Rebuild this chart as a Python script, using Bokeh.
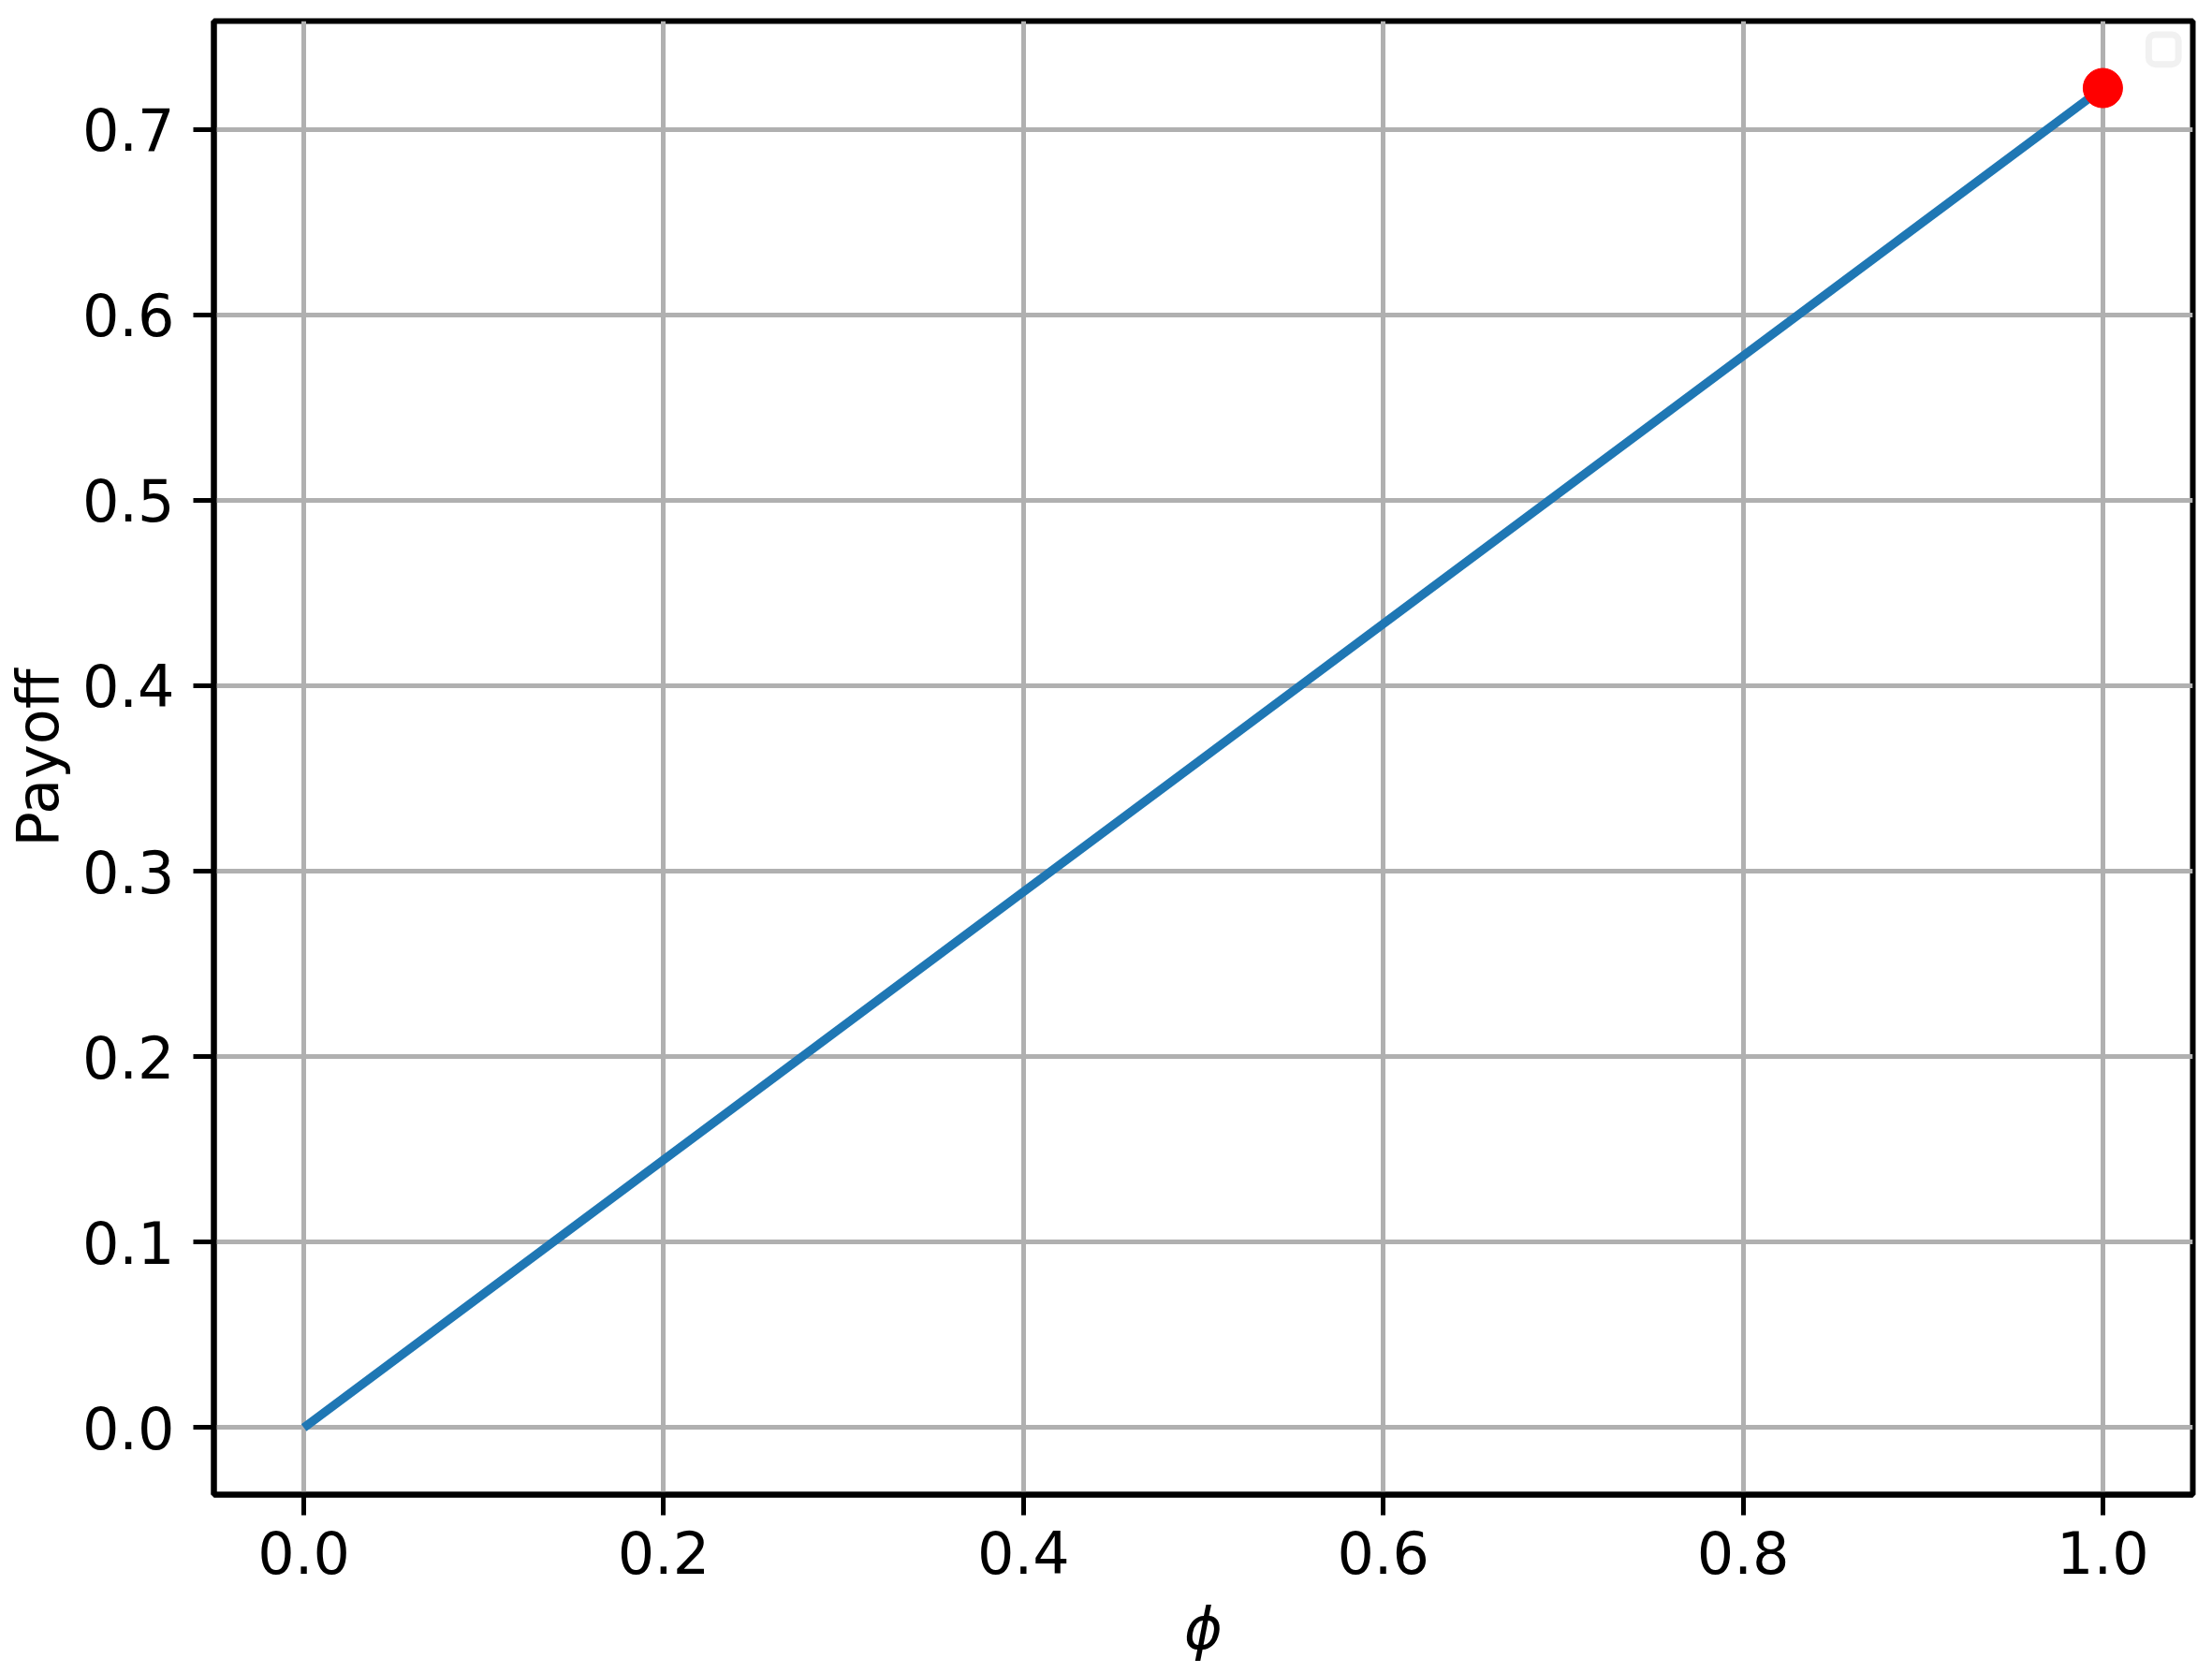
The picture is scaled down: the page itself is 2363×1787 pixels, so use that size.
from bokeh.plotting import figure
from bokeh.models import Range1d, FixedTicker, PrintfTickFormatter, BoxAnnotation
from bokeh.embed import file_html
from bokeh.resources import INLINE

# data
phi = [0.0, 1.0]
payoff = [0.0, 0.7222]
best_phi = [1.0]
best_payoff = [0.7222]
x_ticks = [0.0, 0.2, 0.4, 0.6, 0.8, 1.0]
y_ticks = [0.0, 0.1, 0.2, 0.3, 0.4, 0.5, 0.6, 0.7]

FONT = "DejaVu Sans"
FS = "62px"

xmin, xmax = min(phi), max(phi)
ymin, ymax = min(payoff), max(payoff)
xpad = 0.05 * (xmax - xmin)
ypad = 0.05 * (ymax - ymin)

p = figure(width=2355, height=1779, output_backend="svg", toolbar_location=None,
           x_range=Range1d(xmin - xpad, xmax + xpad),
           y_range=Range1d(ymin - ypad, ymax + ypad),
           min_border_left=228, min_border_right=13, min_border_top=22, min_border_bottom=183)

p.background_fill_color = "white"
p.border_fill_color = "white"
p.outline_line_color = "black"
p.outline_line_width = 6

p.xaxis.ticker = FixedTicker(ticks=x_ticks)
p.yaxis.ticker = FixedTicker(ticks=y_ticks)
p.xaxis.formatter = PrintfTickFormatter(format="%.1f")
p.yaxis.formatter = PrintfTickFormatter(format="%.1f")

for ax in (p.xaxis, p.yaxis):
    ax.axis_line_color = "black"
    ax.axis_line_width = 6
    ax.major_tick_line_color = "black"
    ax.major_tick_line_width = 5
    ax.major_tick_out = 22
    ax.major_tick_in = 0
    ax.minor_tick_line_color = None
    ax.major_label_text_font = FONT
    ax.major_label_text_font_size = FS
    ax.major_label_text_color = "black"
    ax.axis_label_text_font = FONT
    ax.axis_label_text_font_size = FS
    ax.axis_label_text_color = "black"
    ax.axis_label_text_font_style = "normal"

p.xaxis.axis_label = "ϕ"
p.xaxis.axis_label_text_font_style = "italic"
p.xaxis.major_label_standoff = 16
p.xaxis.axis_label_standoff = 19
p.yaxis.axis_label = "Payoff"
p.yaxis.major_label_standoff = 20
p.yaxis.axis_label_standoff = 8

for g in (p.xgrid, p.ygrid):
    g.grid_line_color = "#b0b0b0"
    g.grid_line_width = 5

p.line(phi, payoff, line_color="#1f77b4", line_width=9.4)
p.scatter(best_phi, best_payoff, size=42, fill_color="#ff0000", line_color="#ff0000")

# empty legend frame (top right)
p.add_layout(BoxAnnotation(left=1.0255, right=1.042, bottom=0.735, top=0.751,
                           fill_color="white", fill_alpha=1.0,
                           line_color="#cfcfcf", line_width=7, border_radius=7))

open("out.html", "w").write(file_html(p, INLINE))
